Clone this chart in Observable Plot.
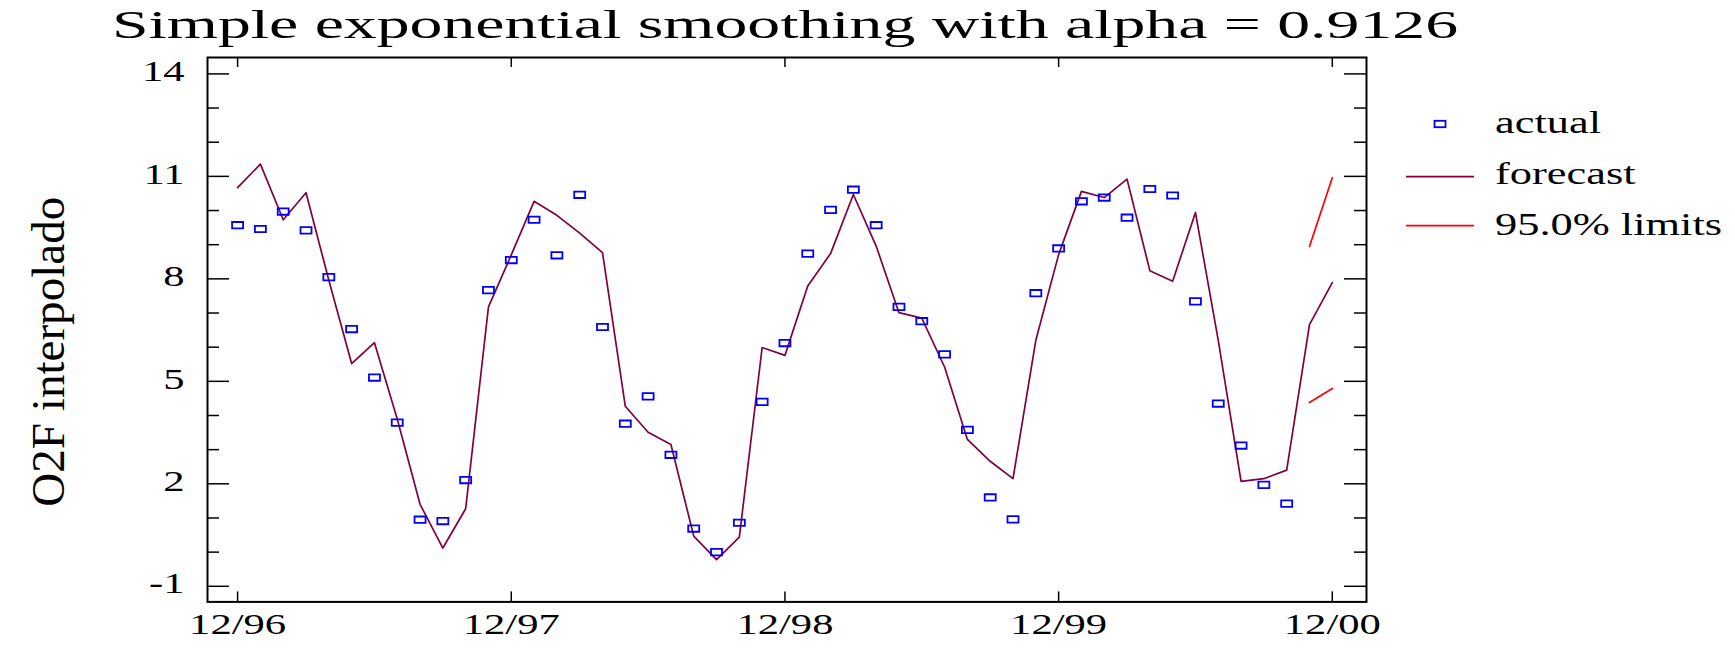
<!DOCTYPE html>
<html>
<head>
<meta charset="utf-8">
<script src="https://cdn.jsdelivr.net/npm/d3@7"></script>
<script src="https://cdn.jsdelivr.net/npm/@observablehq/plot@0.6"></script>
<style>
html, body { margin: 0; padding: 0; background: #fff; }
#wrap { position: relative; width: 1735px; height: 651px; overflow: hidden; background: #fff; }
#title { position: relative; height: 50px; font-family: "Liberation Serif", "Times New Roman", serif; font-size: 41px; line-height: 1; color: #000; }
#title span { position: absolute; left: 112px; top: 4px; white-space: nowrap; transform-origin: 0 0; }
#chart svg { display: block; }
</style>
</head>
<body>
<div id="wrap">
  <div id="title"><span id="tt"></span></div>
  <div id="chart"></div>
</div>
<script>
// ---- data ----
const titleText = "Simple exponential smoothing with alpha = 0.9126";
const yTitle = "O2F interpolado";

// months after 12/96 (0 = 12/96)
const actual = [9.57, 9.46, 9.97, 9.42, 8.05, 6.53, 5.11, 3.79, 0.95, 0.91, 2.11, 7.67,
                8.55, 9.73, 8.69, 10.46, 6.59, 3.76, 4.56, 2.85, 0.69, 0.00, 0.86, 4.40,
                6.12, 8.74, 10.02, 10.61, 9.57, 7.18, 6.76, 5.79, 3.58, 1.60, 0.96, 7.58,
                8.89, 10.27, 10.38, 9.79, 10.63, 10.44, 7.34, 4.35, 3.12, 1.97, 1.42];
const forecast = [10.67, 11.36, 9.73, 10.52, 7.96, 5.52, 6.13, 3.90, 1.40, 0.12, 1.27, 7.18,
                  8.70, 10.27, 9.86, 9.34, 8.77, 4.27, 3.51, 3.15, 0.47, -0.22, 0.44, 5.99,
                  5.76, 7.79, 8.74, 10.47, 8.96, 7.01, 6.85, 5.42, 3.30, 2.66, 2.15, 6.20,
                  8.71, 10.56, 10.38, 10.92, 8.24, 7.93, 9.94, 6.20, 2.07, 2.15, 2.40, 6.66, 7.89];
const limitMonths = [47, 48];
const upper95 = [8.95, 10.96];
const lower95 = [4.38, 4.79];

const xTickMonths = [0, 12, 24, 36, 48];
const xTickLabels = ["12/96", "12/97", "12/98", "12/99", "12/00"];
const yMajorTicks = [-1, 2, 5, 8, 11, 14];
const yTickLabels = ["-1", "2", "5", "8", "11", "14"];
const yMinorTicks = [0, 1, 3, 4, 6, 7, 9, 10, 12, 13];
const legendLabels = ["actual", "forecast", "95.0% limits"];

const colActual = "#0000ff", colForecast = "#800040", colLimits = "#ff0000";

// ---- tables ----
const actualData = actual.map((v, i) => ({m: i, v}));
const forecastData = forecast.map((v, i) => ({m: i, v}));
const upperData = limitMonths.map((m, i) => ({m, v: upper95[i]}));
const lowerData = limitMonths.map((m, i) => ({m, v: lower95[i]}));

// ---- layout ----
const W = 1735, H = 601;
const mL = 207, mR = 369, mT = 7, mB = 49.6;
const plotW = W - mL - mR, plotH = H - mT - mB;

const rectSymbol = { draw(ctx) { ctx.rect(-5.5, -3.2, 11, 6.4); ctx.closePath(); } };

const svg = Plot.plot({
  width: W, height: H,
  marginLeft: mL, marginRight: mR, marginTop: mT, marginBottom: mB,
  style: { fontFamily: "'Liberation Serif', 'Times New Roman', serif", background: "white", color: "black" },
  x: { type: "linear", domain: [-1.32, 49.5], axis: null },
  y: { type: "linear", domain: [-1.457, 14.48], axis: null },
  marks: [
    Plot.tickY(yMajorTicks, { y: d => d, insetRight: plotW - 22, stroke: "black", strokeWidth: 1.5 }),
    Plot.tickY(yMinorTicks, { y: d => d, insetRight: plotW - 12, stroke: "black", strokeWidth: 1.5 }),
    Plot.tickY(yMajorTicks, { y: d => d, insetLeft: plotW - 22, stroke: "black", strokeWidth: 1.5 }),
    Plot.tickY(yMinorTicks, { y: d => d, insetLeft: plotW - 12, stroke: "black", strokeWidth: 1.5 }),
    Plot.tickX(xTickMonths, { x: d => d, insetTop: plotH - 10, stroke: "black", strokeWidth: 1.5 }),
    Plot.tickX(xTickMonths, { x: d => d, insetBottom: plotH - 10, stroke: "black", strokeWidth: 1.5 }),
    Plot.line(forecastData, { x: "m", y: "v", stroke: colForecast, strokeWidth: 1.7 }),
    Plot.line(upperData, { x: "m", y: "v", stroke: colLimits, strokeWidth: 1.7 }),
    Plot.line(lowerData, { x: "m", y: "v", stroke: colLimits, strokeWidth: 1.7 }),
    Plot.dot(actualData, { x: "m", y: "v", symbol: rectSymbol, r: 4, stroke: colActual, fill: "none", strokeWidth: 1.8 }),
    Plot.text(yMajorTicks, { y: d => d, text: (d, i) => yTickLabels[i], frameAnchor: "left", textAnchor: "end", dx: -23, dy: -2.4, fontSize: 30, fill: "black" }),
    Plot.text(xTickMonths, { x: d => d, text: (d, i) => xTickLabels[i], frameAnchor: "bottom", dy: 32.3, fontSize: 30, fill: "black" }),
    Plot.frame({ stroke: "black", strokeWidth: 2 })
  ]
});

document.getElementById("chart").append(svg);

function stretch(node, k) {
  const L = node.getComputedTextLength();
  node.setAttribute("textLength", (L * k).toFixed(2));
  node.setAttribute("lengthAdjust", "spacingAndGlyphs");
}
d3.select(svg).selectAll("text").each(function () { stretch(this, 1.42); });

// y-axis title
const root = d3.select(svg);
root.append("text")
  .attr("transform", "translate(64,301.7) rotate(-90)")
  .attr("text-anchor", "middle")
  .attr("font-size", 47)
  .attr("fill", "black")
  .attr("textLength", 310)
  .attr("lengthAdjust", "spacingAndGlyphs")
  .text(yTitle);

// legend
const lg = root.append("g").attr("class", "legend").attr("text-anchor", "start");
const legendY = [74, 126.7, 175.7];
const legendBase = [83.3, 134, 185];
lg.append("rect").attr("x", 1434.5).attr("y", legendY[0] - 3.2).attr("width", 11).attr("height", 6.4)
  .attr("fill", "none").attr("stroke", colActual).attr("stroke-width", 1.8);
lg.append("line").attr("x1", 1406).attr("x2", 1474).attr("y1", legendY[1]).attr("y2", legendY[1])
  .attr("stroke", colForecast).attr("stroke-width", 1.7);
lg.append("line").attr("x1", 1406).attr("x2", 1474).attr("y1", legendY[2]).attr("y2", legendY[2])
  .attr("stroke", colLimits).attr("stroke-width", 1.7);
legendLabels.forEach((t, i) => {
  const el = lg.append("text").attr("x", 1495).attr("y", legendBase[i])
    .attr("text-anchor", "start")
    .attr("font-size", 31.5).attr("fill", "black").text(t);
  stretch(el.node(), 1.41);
});

// title
const tt = document.getElementById("tt");
tt.textContent = titleText;
const tw = tt.getBoundingClientRect().width;
tt.style.transform = `scaleX(${(1346 / tw).toFixed(4)})`;
</script>
</body>
</html>
